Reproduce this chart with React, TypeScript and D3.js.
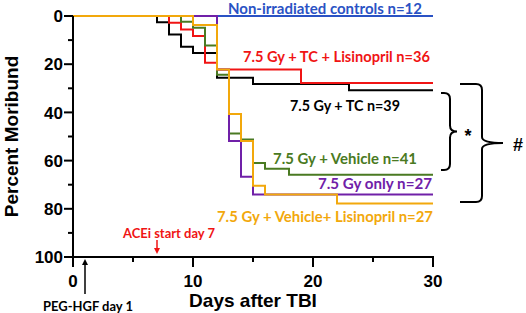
import React from "react";
import * as d3 from "d3";

const yMajor = [0, 20, 40, 60, 80, 100];
const yMinor = [10, 30, 50, 70, 90];
const xMajor = [0, 10, 20, 30];
const xMinor = [5, 15, 25];

const blueDays = [0, 30];
const bluePct = [0, 0];
const blackDays = [0, 7, 8, 9, 10, 12, 15, 23, 30];
const blackPct = [0, 2.6, 7.7, 12.8, 15.4, 25.6, 28.2, 30.8, 30.8];
const redDays = [0, 8, 9, 10, 11, 12, 19, 30];
const redPct = [0, 2.8, 5.6, 8.3, 19.4, 22.2, 27.8, 27.8];
const greenDays = [0, 9, 10, 11, 12, 13, 14, 15, 16, 18, 30];
const greenPct = [0, 2.4, 4.9, 12.2, 24.4, 48.8, 51.2, 61.0, 63.4, 65.9, 65.9];
const purpleDays = [0, 12, 13, 14, 15, 30];
const purplePct = [0, 22.2, 51.9, 66.7, 74.1, 74.1];
const orangeDays = [0, 10, 12, 13, 14, 15, 16, 22, 30];
const orangePct = [0, 3.7, 22.2, 40.7, 51.9, 70.4, 74.1, 77.8, 77.8];

const seriesNames = [
  "Non-irradiated controls n=12",
  "7.5 Gy + TC n=39",
  "7.5 Gy + TC + Lisinopril n=36",
  "7.5 Gy + Vehicle n=41",
  "7.5 Gy only n=27",
  "7.5 Gy + Vehicle+ Lisinopril n=27",
];

const BLUE = "#2a52c4";
const RED = "#f01414";
const BLACK = "#000000";
const GREEN = "#4a7a22";
const PURPLE = "#7020a8";
const ORANGE = "#f2a80c";

export default function App() {
  const x = d3.scaleLinear().domain([0, 30]).range([73, 433]);
  const y = d3.scaleLinear().domain([0, 100]).range([16, 257]);
  const line = d3
    .line<[number, number]>()
    .x((d) => x(d[0]))
    .y((d) => y(d[1]))
    .curve(d3.curveStepAfter);

  const series = [
    { days: blueDays, pct: bluePct, color: BLUE },
    { days: blackDays, pct: blackPct, color: BLACK },
    { days: redDays, pct: redPct, color: RED },
    { days: greenDays, pct: greenPct, color: GREEN },
    { days: purpleDays, pct: purplePct, color: PURPLE },
    { days: orangeDays, pct: orangePct, color: ORANGE },
  ];

  const labelFont = "Lato, 'Open Sans', sans-serif";
  const axisFont = "'Liberation Sans', Arial, sans-serif";

  const brace = (xl: number, yt: number, yb: number, xv: number, xt: number) => {
    const ym = (yt + yb) / 2;
    const r = Math.min(6, xv - xl);
    return `M${xl},${yt} L${xv - r},${yt} Q${xv},${yt} ${xv},${yt + r} L${xv},${ym - r} Q${xv},${ym} ${xt},${ym} Q${xv},${ym} ${xv},${ym + r} L${xv},${yb - r} Q${xv},${yb} ${xv - r},${yb} L${xl},${yb}`;
  };

  const labels = [
    { text: seriesNames[0], x: 228, y: 13.5, w: 194, color: BLUE },
    { text: seriesNames[2], x: 243, y: 62, w: 187, color: RED },
    { text: seriesNames[1], x: 290, y: 111, w: 110, color: BLACK },
    { text: seriesNames[3], x: 273, y: 164, w: 144, color: GREEN },
    { text: seriesNames[4], x: 318, y: 189, w: 114, color: PURPLE },
    { text: seriesNames[5], x: 217, y: 222, w: 216, color: ORANGE },
  ];

  return (
    <div style={{ position: "absolute", left: 0, top: 0 }}>
      <svg width={526} height={313} style={{ display: "block", background: "#fff" }}>
        {series.map((s, i) => (
          <path
            key={i}
            d={line(s.days.map((d, j) => [d, s.pct[j]] as [number, number])) || ""}
            fill="none"
            stroke={s.color}
            strokeWidth={2}
          />
        ))}

        {/* y axis */}
        <line x1={x(0)} x2={x(0)} y1={y(0)} y2={y(100)} stroke="#000" strokeWidth={2} />
        {yMajor.map((t) => (
          <g key={"ym" + t}>
            <line x1={x(0) - 9} x2={x(0)} y1={y(t)} y2={y(t)} stroke="#000" strokeWidth={2} />
            <text
              x={x(0) - 10}
              y={y(t)}
              dy="0.36em"
              textAnchor="end"
              fontFamily={axisFont}
              fontWeight="bold"
              fontSize={17}
            >
              {t}
            </text>
          </g>
        ))}
        {yMinor.map((t) => (
          <line key={"yn" + t} x1={x(0) - 5} x2={x(0)} y1={y(t)} y2={y(t)} stroke="#000" strokeWidth={2} />
        ))}

        {/* x axis */}
        <line x1={x(0) - 1} x2={x(30) + 1} y1={y(100)} y2={y(100)} stroke="#000" strokeWidth={2} />
        {xMajor.map((t) => (
          <g key={"xm" + t}>
            <line x1={x(t)} x2={x(t)} y1={y(100)} y2={y(100) + 10} stroke="#000" strokeWidth={2} />
            <text
              x={x(t)}
              y={287}
              textAnchor="middle"
              fontFamily={axisFont}
              fontWeight="bold"
              fontSize={17}
            >
              {t}
            </text>
          </g>
        ))}
        {xMinor.map((t) => (
          <line key={"xn" + t} x1={x(t)} x2={x(t)} y1={y(100)} y2={y(100) + 5} stroke="#000" strokeWidth={2} />
        ))}

        {/* axis titles */}
        <text
          transform={`translate(18,${(y(0) + y(100)) / 2}) rotate(-90)`}
          textAnchor="middle"
          fontFamily={axisFont}
          fontWeight="bold"
          fontSize={19}
        >
          Percent Moribund
        </text>
        <text x={253} y={307} textAnchor="middle" fontFamily={axisFont} fontWeight="bold" fontSize={19}>
          Days after TBI
        </text>

        {/* series labels */}
        {labels.map((l, i) => (
          <text
            key={"lab" + i}
            x={l.x}
            y={l.y}
            fontFamily={labelFont}
            fontWeight="bold"
            fontSize={15}
            fill={l.color}
            textLength={l.w}
            lengthAdjust="spacingAndGlyphs"
          >
            {l.text}
          </text>
        ))}

        {/* annotations */}
        <text x={123} y={238} fontFamily={labelFont} fontWeight="bold" fontSize={14} fill={RED} textLength={92} lengthAdjust="spacingAndGlyphs">
          ACEi start day 7
        </text>
        <line x1={x(7)} x2={x(7)} y1={240} y2={250} stroke={RED} strokeWidth={1.5} />
        <path d={`M${x(7) - 3},${248} L${x(7) + 3},${248} L${x(7)},${254} Z`} fill={RED} />

        <text x={43} y={311} fontFamily={labelFont} fontWeight="bold" fontSize={13} fill={BLACK} textLength={90} lengthAdjust="spacingAndGlyphs">
          PEG-HGF day 1
        </text>
        <line x1={x(1)} x2={x(1)} y1={294} y2={263} stroke={BLACK} strokeWidth={1.5} />
        <path d={`M${x(1) - 3},${265} L${x(1) + 3},${265} L${x(1)},${259} Z`} fill={BLACK} />

        {/* braces */}
        <path d={brace(441, 93, 170, 450, 457)} fill="none" stroke="#000" strokeWidth={2} />
        <text x={468} y={142} textAnchor="middle" fontFamily={axisFont} fontWeight="bold" fontSize={18}>
          *
        </text>
        <path d={brace(460, 84, 202, 482, 503)} fill="none" stroke="#000" strokeWidth={2} />
        <text x={518} y={151} textAnchor="middle" fontFamily={axisFont} fontWeight="bold" fontSize={18}>
          #
        </text>
      </svg>
    </div>
  );
}
